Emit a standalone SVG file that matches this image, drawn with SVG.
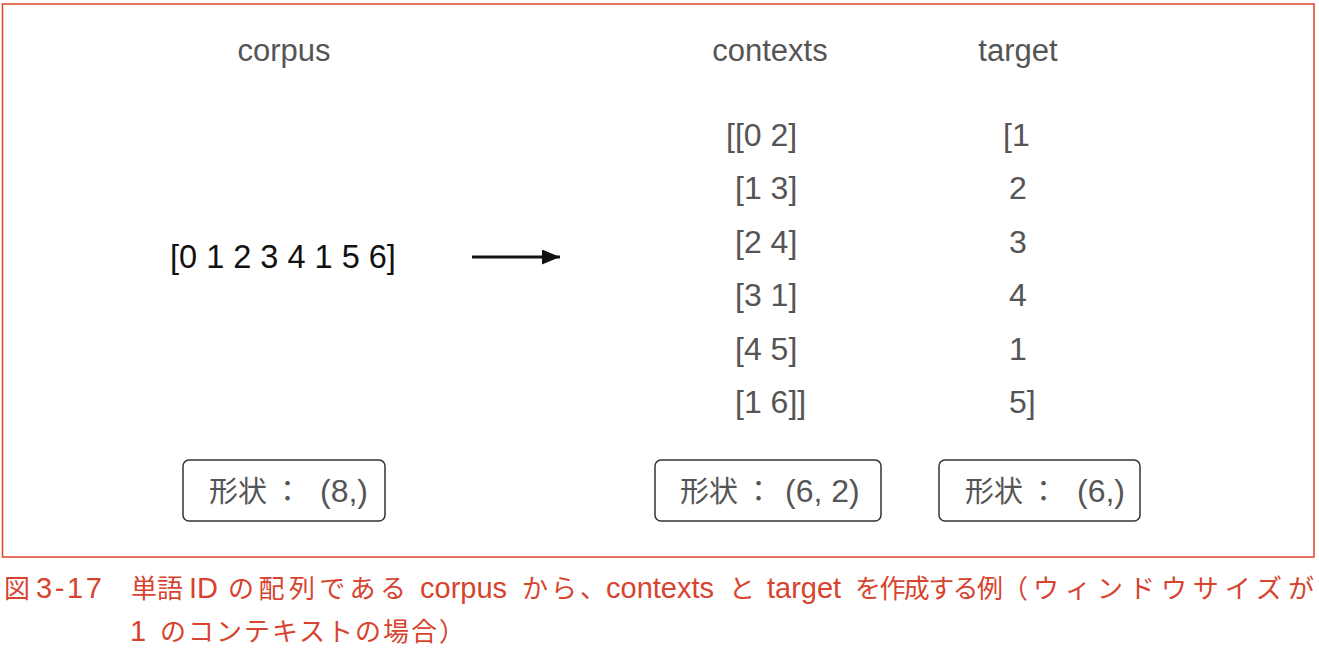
<svg xmlns="http://www.w3.org/2000/svg" width="1319" height="658" viewBox="0 0 1319 658">
<style>
.hdr{font-family:"Liberation Sans","Noto Sans CJK JP",sans-serif;font-size:31px;fill:#555;text-anchor:middle}
.val{font-family:"Liberation Sans","Noto Sans CJK JP",sans-serif;font-size:32px;fill:#555}
.shp{font-family:"Liberation Sans","Noto Sans CJK JP",sans-serif;font-size:29px;fill:#555}
.lat{font-size:32px}
.box{fill:#fff;stroke:#333;stroke-width:1.5}
.cap{font-family:"Liberation Sans","Noto Sans CJK JP",sans-serif;font-size:26px;fill:#d6442f}
.cl{font-size:29px}
</style>
<defs>
<marker id="ah" markerWidth="6" markerHeight="5" refX="6" refY="2.5" orient="auto" markerUnits="strokeWidth"><path d="M0,0 L6,2.5 L0,5 Z" fill="#111"/></marker>
</defs>
<rect x="2.5" y="4" width="1311.5" height="553" fill="none" stroke="#e0442c" stroke-width="1.5"/>
<g id="corpus">
<text class="hdr" x="284" y="61">corpus</text>
<text x="170" y="268" font-family="Liberation Sans, sans-serif" font-size="32.5" fill="#111">[0 1 2 3 4 1 5 6]</text>
</g>
<g id="contexts">
<text class="hdr" x="770" y="61">contexts</text>
<text class="val" x="726" y="146">[[0 2]</text>
<text class="val" x="735" y="199">[1 3]</text>
<text class="val" x="735" y="253">[2 4]</text>
<text class="val" x="735" y="306">[3 1]</text>
<text class="val" x="735" y="360">[4 5]</text>
<text class="val" x="735" y="413">[1 6]]</text>
</g>
<g id="target">
<text class="hdr" x="1018" y="61">target</text>
<text class="val" x="1003" y="146">[1</text>
<text class="val" x="1009" y="199">2</text>
<text class="val" x="1009" y="253">3</text>
<text class="val" x="1009" y="306">4</text>
<text class="val" x="1009" y="360">1</text>
<text class="val" x="1009" y="413">5]</text>
</g>
<g id="shape-corpus">
<rect class="box" x="183" y="460" width="202" height="61" rx="6"/>
<text class="shp" y="502"><tspan x="209">形状</tspan><tspan x="273">：</tspan><tspan class="lat" x="320">(8,)</tspan></text>
</g>
<g id="shape-contexts">
<rect class="box" x="655" y="460" width="226" height="61" rx="6"/>
<text class="shp" y="502"><tspan x="680">形状</tspan><tspan x="744">：</tspan><tspan class="lat" x="785">(6, 2)</tspan></text>
</g>
<g id="shape-target">
<rect class="box" x="939" y="460" width="201" height="61" rx="6"/>
<text class="shp" y="502"><tspan x="965">形状</tspan><tspan x="1029">：</tspan><tspan class="lat" x="1077">(6,)</tspan></text>
</g>
<g id="connectors">
<line x1="472" y1="257" x2="560" y2="257" stroke="#111" stroke-width="3" marker-end="url(#ah)"/>
</g>
<g id="caption">
<text class="cap" y="598"><tspan x="4">図</tspan><tspan class="cl" x="36" textLength="66">3-17</tspan><tspan x="131">単語</tspan><tspan class="cl" x="189">ID</tspan><tspan x="228" textLength="178">の配列である</tspan><tspan class="cl" x="420">corpus</tspan><tspan x="522" textLength="84">から、</tspan><tspan class="cl" x="606">contexts</tspan><tspan x="729">と</tspan><tspan class="cl" x="767">target</tspan><tspan x="855" textLength="148">を作成する例</tspan><tspan x="1002">（</tspan><tspan x="1033" textLength="281">ウィンドウサイズが</tspan></text>
<text class="cap" y="641"><tspan class="cl" x="130">1</tspan><tspan x="160" textLength="305">のコンテキストの場合）</tspan></text>
</g>
</svg>
